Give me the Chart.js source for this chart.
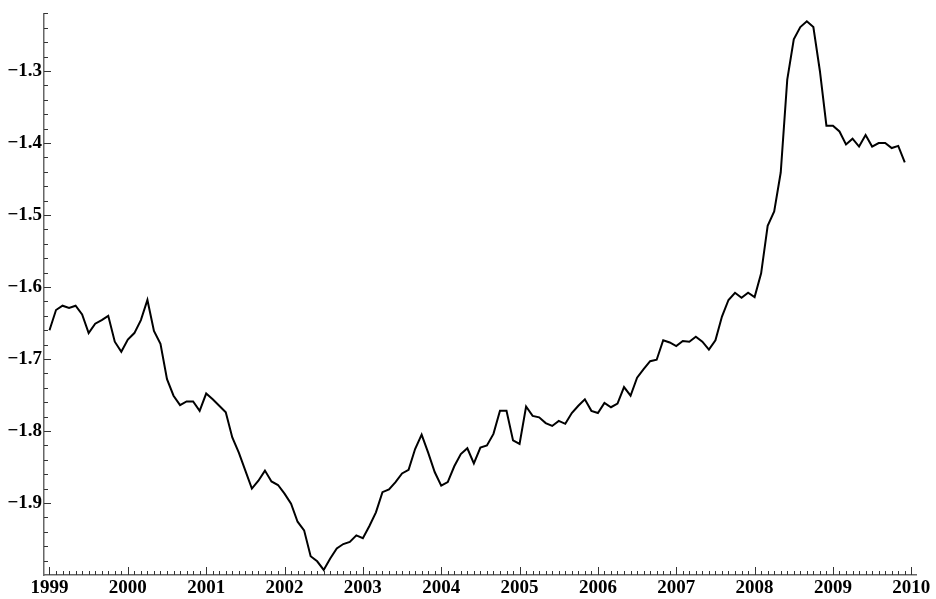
<!DOCTYPE html>
<html>
<head>
<meta charset="utf-8">
<script src="https://cdn.jsdelivr.net/npm/chart.js@4/dist/chart.umd.min.js"></script>
<style>
  html, body { margin: 0; padding: 0; background: #ffffff; }
  #wrap { width: 936px; height: 599px; }
</style>
</head>
<body>
<div id="wrap"><canvas id="c" width="936" height="599"></canvas></div>
<script>
// ---- data (monthly, starting January 1999) ----
const startYear = 1999;
const values = [
  -1.660, -1.632, -1.626, -1.629, -1.626, -1.638, -1.664, -1.651, -1.646, -1.640, -1.676, -1.690,
  -1.673, -1.664, -1.646, -1.618, -1.661, -1.679, -1.728, -1.751, -1.764, -1.759, -1.759, -1.772,
  -1.748, -1.756, -1.765, -1.774, -1.809, -1.830, -1.855, -1.880, -1.869, -1.855, -1.870, -1.875,
  -1.887, -1.901, -1.926, -1.938, -1.974, -1.981, -1.993, -1.977, -1.963, -1.957, -1.954, -1.945,
  -1.949, -1.932, -1.913, -1.885, -1.881, -1.871, -1.859, -1.854, -1.825, -1.805, -1.830, -1.857,
  -1.876, -1.871, -1.849, -1.832, -1.824, -1.845, -1.823, -1.820, -1.804, -1.772, -1.772, -1.813,
  -1.818, -1.766, -1.779, -1.781, -1.789, -1.793, -1.786, -1.790, -1.775, -1.765, -1.756, -1.772,
  -1.775, -1.761, -1.767, -1.762, -1.739, -1.751, -1.726, -1.714, -1.703, -1.701, -1.674, -1.677,
  -1.682, -1.675, -1.676, -1.669, -1.676, -1.687, -1.674, -1.641, -1.618, -1.608, -1.615, -1.608,
  -1.614, -1.581, -1.515, -1.495, -1.441, -1.312, -1.256, -1.239, -1.231, -1.239, -1.300, -1.376,
  -1.376, -1.384, -1.402, -1.394, -1.405, -1.389, -1.405, -1.400, -1.400, -1.407, -1.404, -1.427
];
const xTickYears = [1999, 2000, 2001, 2002, 2003, 2004, 2005, 2006, 2007, 2008, 2009, 2010];
const yTickValues = [-1.9, -1.8, -1.7, -1.6, -1.5, -1.4, -1.3];

const points = values.map((v, i) => ({ x: startYear + i / 12, y: v }));

const tickFont = { family: "'Liberation Serif', 'DejaVu Serif', serif", size: 19, weight: 'bold' };

// inward tick marks drawn through the chart's own scales
const inwardTicks = {
  id: 'inwardTicks',
  afterDraw(chart) {
    const ctx = chart.ctx;
    const xs = chart.scales.x, ys = chart.scales.y;
    const area = chart.chartArea;
    ctx.save();
    ctx.strokeStyle = '#333';
    ctx.lineWidth = 1;
    // y ticks every 0.02, major every 0.1
    for (let k = 0; k <= 39; k++) {
      const v = -2.0 + k * 0.02;
      const p = Math.round(ys.getPixelForValue(v)) + 0.5;
      if (p < area.top || p > area.bottom) continue;
      const major = (k % 5 === 0);
      ctx.beginPath();
      ctx.moveTo(area.left, p);
      ctx.lineTo(area.left + (major ? 7 : 4), p);
      ctx.stroke();
    }
    // x ticks monthly, major each year
    for (let m = 0; m <= 132; m++) {
      const v = 1999 + m / 12;
      const p = Math.round(xs.getPixelForValue(v)) + 0.5;
      if (p < area.left || p > area.right) continue;
      const major = (m % 12 === 0);
      ctx.beginPath();
      ctx.moveTo(p, area.bottom);
      ctx.lineTo(p, area.bottom - (major ? 8 : 4));
      ctx.stroke();
    }
    ctx.restore();
  }
};

new Chart(document.getElementById('c'), {
  type: 'line',
  data: {
    datasets: [{
      data: points,
      borderColor: '#000000',
      borderWidth: 2,
      pointRadius: 0,
      tension: 0,
      fill: false
    }]
  },
  options: {
    responsive: false,
    animation: false,
    devicePixelRatio: 1,
    layout: { padding: { left: 0, right: 20, top: 12, bottom: 0 } },
    plugins: { legend: { display: false }, tooltip: { enabled: false } },
    scales: {
      x: {
        type: 'linear',
        min: 1998.93,
        max: 2010.06,
        grid: { display: false, drawTicks: false },
        border: { display: true, color: '#666', width: 1.5 },
        ticks: {
          font: tickFont,
          color: '#000',
          padding: 2,
          maxRotation: 0,
          autoSkip: false,
          callback: (v) => String(v)
        },
        afterBuildTicks: (scale) => { scale.ticks = xTickYears.map(v => ({ value: v })); },
        afterFit: (scale) => { scale.height = 24; }
      },
      y: {
        type: 'linear',
        min: -2.0,
        max: -1.22,
        grid: { display: false, drawTicks: false },
        border: { display: true, color: '#666', width: 1.5 },
        ticks: {
          font: tickFont,
          color: '#000',
          padding: 2,
          autoSkip: false,
          callback: (v) => (v < 0 ? '\u2212' : '') + Math.abs(v).toFixed(1)
        },
        afterBuildTicks: (scale) => { scale.ticks = yTickValues.map(v => ({ value: v })); },
        afterFit: (scale) => { scale.width = 44; }
      }
    }
  },
  plugins: [inwardTicks]
});
</script>
</body>
</html>
